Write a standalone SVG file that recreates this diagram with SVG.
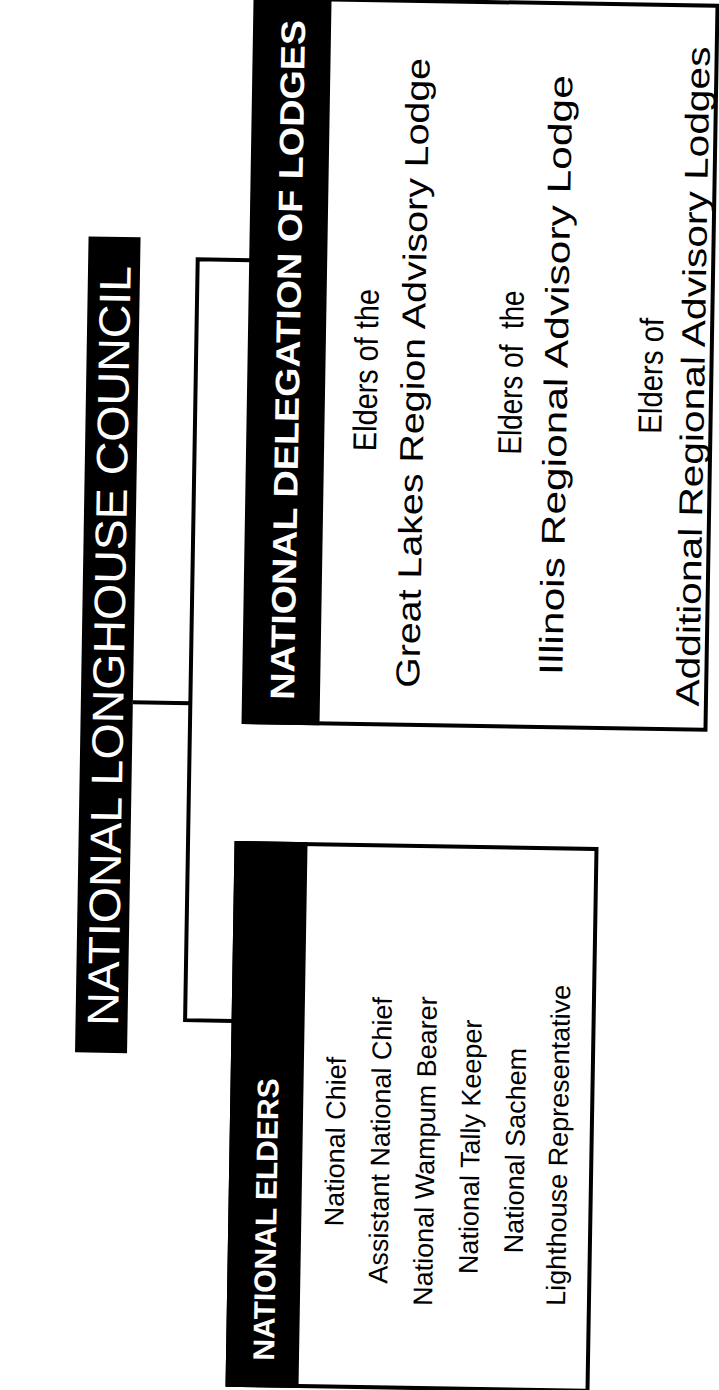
<svg xmlns="http://www.w3.org/2000/svg" width="719" height="1390" viewBox="0 0 719 1390">
<style>
.bar{fill:#000}
.box{fill:#fff;stroke:#000;stroke-width:4}
.conn{fill:none;stroke:#000;stroke-width:4}
.title{font-family:"Liberation Sans",Arial,sans-serif;font-size:44px;fill:#fff;text-anchor:middle}
.hdr{font-family:"Liberation Sans",Arial,sans-serif;font-weight:bold;fill:#fff;text-anchor:middle}
.item{font-family:"Liberation Sans",Arial,sans-serif;fill:#000;text-anchor:middle}
.dl{font-size:33px}
</style>
<rect x="0" y="0" width="719" height="1390" fill="#fff"/>
<g transform="rotate(0.95 360 695)">
<g id="connectors">
<polyline class="conn" points="133,706 190.5,706"/>
<polyline class="conn" points="244,262 190.5,262 190.5,1023 239,1023"/>
</g>
<g id="council">
<rect class="bar" x="81" y="241" width="52" height="816"/>
<text class="title" textLength="760" lengthAdjust="spacingAndGlyphs" transform="translate(123.5,650) rotate(-90)">NATIONAL LONGHOUSE COUNCIL</text>
</g>
<g id="delegation">
<rect class="box" x="244" y="0" width="462" height="724"/>
<rect class="bar" x="244" y="-2" width="76" height="728"/>
<text class="hdr" font-size="34" textLength="680" lengthAdjust="spacingAndGlyphs" transform="translate(294,361) rotate(-90)">NATIONAL DELEGATION OF LODGES</text>
<text class="item dl" textLength="162" lengthAdjust="spacingAndGlyphs" transform="translate(372,370) rotate(-90)">Elders of the</text>
<text class="item dl" textLength="630" lengthAdjust="spacingAndGlyphs" transform="translate(419,372) rotate(-90)">Great Lakes Region Advisory Lodge</text>
<text class="item dl" xml:space="preserve" textLength="164" lengthAdjust="spacingAndGlyphs" transform="translate(517,370) rotate(-90)">Elders of  the</text>
<text class="item dl" textLength="600" lengthAdjust="spacingAndGlyphs" transform="translate(562,372) rotate(-90)">Illinois Regional Advisory Lodge</text>
<text class="item dl" textLength="116" lengthAdjust="spacingAndGlyphs" transform="translate(657,371) rotate(-90)">Elders of</text>
<text class="item dl" textLength="660" lengthAdjust="spacingAndGlyphs" transform="translate(699,371) rotate(-90)">Additional Regional Advisory Lodges</text>
</g>
<g id="elders">
<rect class="box" x="239" y="845" width="360" height="542"/>
<rect class="bar" x="237" y="843" width="73" height="546"/>
<text class="hdr" font-size="30" transform="translate(285,1221) rotate(-90)">NATIONAL ELDERS</text>
<g font-size="27">
<text class="item" transform="translate(352,1142) rotate(-90)">National Chief</text>
<text class="item" transform="translate(397,1140) rotate(-90)">Assistant National Chief</text>
<text class="item" transform="translate(442,1150) rotate(-90)">National Wampum Bearer</text>
<text class="item" transform="translate(487,1145) rotate(-90)">National Tally Keeper</text>
<text class="item" transform="translate(532,1148) rotate(-90)">National Sachem</text>
<text class="item" transform="translate(575,1142) rotate(-90)">Lighthouse Representative</text>
</g>
</g>
</g>
</svg>
